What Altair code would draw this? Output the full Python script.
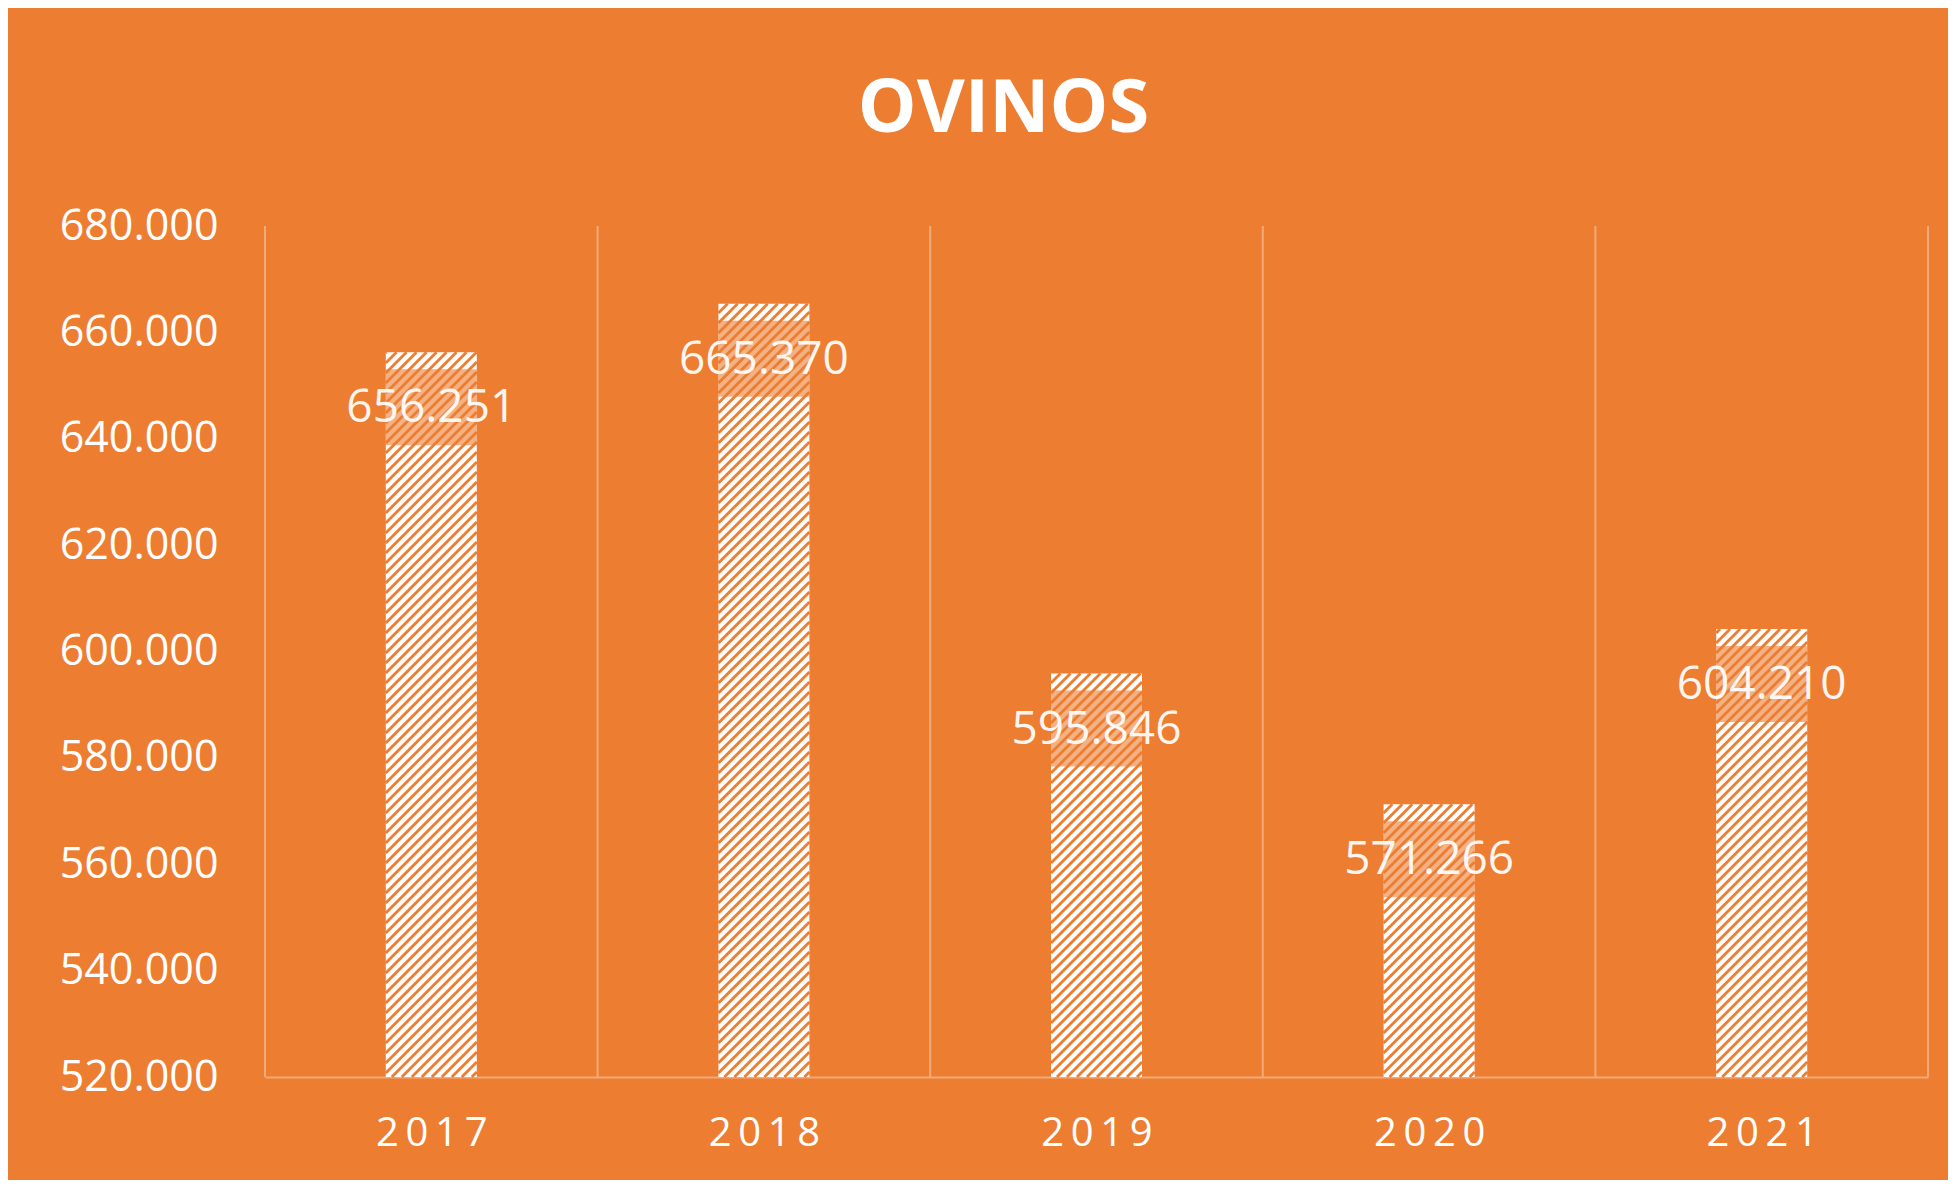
import altair as alt
import pandas as pd

# ---- data ----
years = [2017, 2018, 2019, 2020, 2021]
values = [656251, 665370, 595846, 571266, 604210]
y_ticks = [520000, 540000, 560000, 580000, 600000, 620000, 640000, 660000, 680000]
title_text = "OVINOS"

# ---- style / layout ----
ORANGE = "#ED7D31"
GRID = "#F3AA79"
FONT = "Open Sans"
W, H = 1663, 851
X0, X1 = years[0] - 0.5, years[-1] + 0.5
Y0, Y1 = y_ticks[0], y_ticks[-1]
BAR_PX = 91
HATCH_PX = 10
kx = W / (X1 - X0)
ky = H / (Y1 - Y0)

df = pd.DataFrame({"year": years, "value": values})
edges = pd.DataFrame({"edge": [y - 0.5 for y in years] + [years[-1] + 0.5]})

xs = alt.Scale(domain=[X0, X1], nice=False, zero=False)
ys = alt.Scale(domain=[Y0, Y1], nice=False, zero=False)

AX = alt.Axis(
    values=years,
    title=None,
    grid=False,
    ticks=False,
    domain=True,
    domainColor=GRID,
    domainWidth=2,
    labelFont=FONT,
    labelFontSize=40,
    labelColor="white",
    labelPadding=56,
    labelBaseline="middle",
    labelExpr="join(split(toString(datum.value), ''), '\u2009')",
)
AY = alt.Axis(
    values=y_ticks,
    title=None,
    grid=False,
    ticks=False,
    domain=False,
    labelFont=FONT,
    labelFontSize=43,
    labelColor="white",
    labelPadding=47,
    labelExpr="replace(format(datum.value, ','), ',', '.')",
)

grid = alt.Chart(edges).mark_rule(color=GRID, strokeWidth=2).encode(
    x=alt.X("edge:Q", scale=xs, axis=AX)
)

base = alt.Chart(df).transform_calculate(
    xl=f"datum.year - {BAR_PX / 2 / kx}",
    xr=f"datum.year + {BAR_PX / 2 / kx}",
    lbl="replace(format(datum.value, ','), ',', '.')",
)

bars = base.mark_bar(color="white").encode(
    x=alt.X("xl:Q", scale=xs, axis=AX),
    x2="xr:Q",
    y=alt.Y("value:Q", scale=ys, axis=AY),
    y2=alt.datum(Y0),
)

hatch = (
    alt.Chart(df)
    .transform_calculate(
        L=f"(datum.year - {X0}) * {kx} - {BAR_PX / 2}",
        T=f"(datum.value - {Y0}) * {ky}",
    )
    .transform_calculate(idx=f"sequence(0, ceil((datum.T + {BAR_PX}) / {HATCH_PX}) + 1)")
    .transform_flatten(["idx"])
    .transform_calculate(c=f"-{BAR_PX} + datum.idx * {HATCH_PX} + {HATCH_PX / 2}")
    .transform_calculate(
        s0="max(0, -datum.c)",
        s1=f"min({BAR_PX}, datum.T - datum.c)",
    )
    .transform_filter("datum.s1 > datum.s0")
    .transform_calculate(
        hx1=f"{X0} + (datum.L + datum.s0) / {kx}",
        hy1=f"{Y0} + (datum.s0 + datum.c) / {ky}",
        hx2=f"{X0} + (datum.L + datum.s1) / {kx}",
        hy2=f"{Y0} + (datum.s1 + datum.c) / {ky}",
    )
    .mark_rule(color=ORANGE, strokeWidth=2.8)
    .encode(
        x=alt.X("hx1:Q", scale=xs, axis=AX),
        y=alt.Y("hy1:Q", scale=ys, axis=AY),
        x2="hx2:Q",
        y2="hy2:Q",
    )
)

box = base.mark_bar(color=ORANGE, opacity=0.6, yOffset=17, y2Offset=93).encode(
    x=alt.X("xl:Q", scale=xs, axis=AX),
    x2="xr:Q",
    y=alt.Y("value:Q", scale=ys, axis=AY),
    y2="value:Q",
)

labels = base.mark_text(
    dy=56, baseline="middle", align="center", font=FONT, fontSize=46, color="#FFFFFF", opacity=0.93
).encode(
    x=alt.X("year:Q", scale=xs, axis=AX),
    y=alt.Y("value:Q", scale=ys, axis=AY),
    text="lbl:N",
)

chart = (
    alt.layer(grid, bars, hatch, box, labels)
    .properties(
        width=W,
        height=H,
        autosize="none",
        padding={"left": 257, "top": 218, "right": 20, "bottom": 103},
        background=ORANGE,
        title=alt.TitleParams(
            text=title_text,
            font=FONT,
            fontSize=74,
            fontWeight="bold",
            color="white",
            anchor="middle",
            baseline="alphabetic",
            dx=-93,
            dy=22,
            offset=21,
        ),
    )
    .configure_view(strokeWidth=0)
)

chart.save("out.html", embed_options={"renderer": "svg", "actions": False})
